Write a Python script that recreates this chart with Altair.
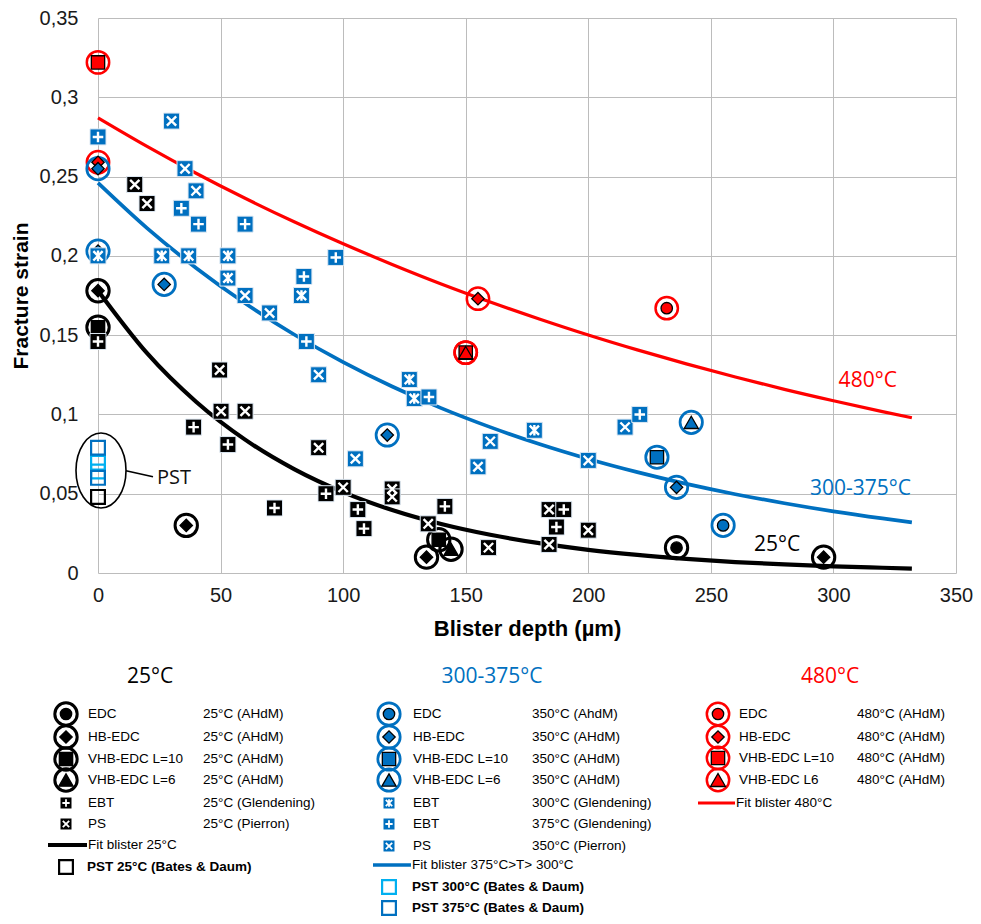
import altair as alt
import pandas as pd

# ================= DATA =================
# AHdM tests (ring markers): blister depth (µm), fracture strain, specimen type
ahdm25_x = [0, 0, 36, 134, 139, 144, 236, 296]
ahdm25_y = [0.178, 0.155, 0.030, 0.010, 0.021, 0.015, 0.016, 0.010]
ahdm25_t = ["HB-EDC", "VHB-EDC L=10", "HB-EDC", "HB-EDC", "VHB-EDC L=10",
            "VHB-EDC L=6", "EDC", "HB-EDC"]

ahdm350_x = [0, 0, 27, 118, 228, 236, 242, 255]
ahdm350_y = [0.255, 0.203, 0.182, 0.087, 0.073, 0.054, 0.095, 0.030]
ahdm350_t = ["HB-EDC", "HB-EDC", "HB-EDC", "HB-EDC", "VHB-EDC L=10",
             "HB-EDC", "VHB-EDC L=6", "EDC"]

ahdm480_x = [0, 0, 155, 150, 150, 232]
ahdm480_y = [0.322, 0.259, 0.173, 0.139, 0.139, 0.167]
ahdm480_t = ["VHB-EDC L=10", "HB-EDC", "HB-EDC", "VHB-EDC L=10",
             "VHB-EDC L=6", "EDC"]

# EBT (Glendening) and PS (Pierron)
ebt25_x = [0, 39, 53, 72, 93, 106, 108.5, 141.5, 190, 187]
ebt25_y = [0.146, 0.092, 0.081, 0.041, 0.050, 0.040, 0.028, 0.042, 0.040, 0.029]
ps25_x = [15, 20, 49.6, 50.2, 60, 90, 100, 120, 120, 134.7, 159.3, 184, 184, 200]
ps25_y = [0.245, 0.233, 0.128, 0.102, 0.102, 0.079, 0.054, 0.053, 0.048,
          0.031, 0.016, 0.040, 0.018, 0.027]
ebt300_x = [0, 26, 37, 53, 53, 83, 127, 129, 178]
ebt300_y = [0.200, 0.200, 0.200, 0.200, 0.186, 0.175, 0.122, 0.110, 0.090]
ebt375_x = [0, 34, 41, 60, 84, 85, 97, 135, 221]
ebt375_y = [0.275, 0.230, 0.220, 0.220, 0.187, 0.146, 0.199, 0.111, 0.100]
ps350_x = [30, 35.5, 40, 60, 70, 90, 105, 155, 160, 200, 215]
ps350_y = [0.285, 0.255, 0.241, 0.175, 0.164, 0.125, 0.072, 0.067, 0.083, 0.071, 0.092]

# PST (Bates & Daum), all at zero depth
pst25_y = [0.048]
pst300_y = [0.0695, 0.064]
pst375_y = [0.079, 0.060]

# Fit curves
fit_x = [0, 20, 40, 60, 80, 100, 120, 140, 160, 180, 200, 220, 240, 260, 280, 300, 320, 332]
fit25_y = [0.178, 0.1386, 0.108, 0.0841, 0.0655, 0.051, 0.0397, 0.0309, 0.0241, 0.0188,
           0.0146, 0.0114, 0.0089, 0.0069, 0.0054, 0.0042, 0.0033, 0.0028]
fit350_y = [0.246, 0.2175, 0.1924, 0.1701, 0.1504, 0.133, 0.1176, 0.104, 0.092, 0.0813,
            0.0719, 0.0636, 0.0562, 0.0497, 0.044, 0.0389, 0.0344, 0.0319]
fit480_y = [0.287, 0.269, 0.2521, 0.2363, 0.2215, 0.2076, 0.1946, 0.1823, 0.1709, 0.1602,
            0.1501, 0.1407, 0.1319, 0.1236, 0.1158, 0.1086, 0.1018, 0.0979]

X_TICKS = [0, 50, 100, 150, 200, 250, 300, 350]
Y_TICKS = [0, 0.05, 0.1, 0.15, 0.2, 0.25, 0.3, 0.35]

# Annotations
curve_labels = ["480°C", "300-375°C", "25°C"]
curve_label_x = [314, 311, 277]
curve_label_y = [0.121, 0.053, 0.0175]
curve_label_g = ["480", "350", "25"]

# Legend content: (kind, key, name, source)
legend_titles = ["25°C", "300-375°C", "480°C"]
legend_col1 = [("ring", "EDC", "EDC", "25°C (AHdM)"),
               ("ring", "HB-EDC", "HB-EDC", "25°C (AHdM)"),
               ("ring", "VHB-EDC L=10", "VHB-EDC L=10", "25°C (AHdM)"),
               ("ring", "VHB-EDC L=6", "VHB-EDC L=6", "25°C (AHdM)"),
               ("sq", "plus", "EBT", "25°C (Glendening)"),
               ("sq", "x", "PS", "25°C (Pierron)"),
               ("line", "", "Fit blister 25°C", ""),
               ("pst", "p25", "PST 25°C (Bates & Daum)", "")]
legend_col2 = [("ring", "EDC", "EDC", "350°C (AhdM)"),
               ("ring", "HB-EDC", "HB-EDC", "350°C (AHdM)"),
               ("ring", "VHB-EDC L=10", "VHB-EDC L=10", "350°C (AHdM)"),
               ("ring", "VHB-EDC L=6", "VHB-EDC L=6", "350°C (AHdM)"),
               ("sq", "ast", "EBT", "300°C (Glendening)"),
               ("sq", "plus", "EBT", "375°C (Glendening)"),
               ("sq", "x", "PS", "350°C (Pierron)"),
               ("line", "", "Fit blister 375°C>T> 300°C", ""),
               ("pst", "p300", "PST 300°C (Bates & Daum)", ""),
               ("pst", "p375", "PST 375°C (Bates & Daum)", "")]
legend_col3 = [("ring", "EDC", "EDC", "480°C (AHdM)"),
               ("ring", "HB-EDC", "HB-EDC", "480°C (AHdM)"),
               ("ring", "VHB-EDC L=10", "VHB-EDC L=10", "480°C (AHdM)"),
               ("ring", "VHB-EDC L6", "VHB-EDC L6", "480°C (AHdM)"),
               ("line", "", "Fit blister 480°C", "")]

# ================= LAYOUT / STYLE =================
W, H = 858, 555
PAD = {"left": 90, "top": 10, "right": 17, "bottom": 343}
X0, Y0 = 8 + PAD["left"], 8 + PAD["top"]   # page position of the plot origin
XMAX, YMAX = 350.0, 0.35


def px2x(px):
    return (px - X0) * XMAX / W


def py2y(py):
    return (Y0 + H - py) * YMAX / H


GROUP_DOM = ["25", "350", "480", "p25", "p300", "p375"]
GROUP_RNG = ["#000000", "#0070c0", "#ff0000", "#000000", "#00b0f0", "#0070c0"]

PLUS = "M -0.66 0 L 0.66 0 M 0 -0.66 L 0 0.66"
XMARK = "M -0.58 -0.58 L 0.58 0.58 M -0.58 0.58 L 0.58 -0.58"
AST = XMARK + " M 0 -0.66 L 0 0.66"
SHAPE_DOM = ["EDC", "HB-EDC", "VHB-EDC L=10", "VHB-EDC L=6", "VHB-EDC L6", "plus", "x", "ast"]
SHAPE_RNG = ["circle", "diamond", "square", "triangle-up", "triangle-up", PLUS, XMARK, AST]
INNER_DOM = ["EDC", "HB-EDC", "VHB-EDC L=10", "VHB-EDC L=6", "VHB-EDC L6"]
INNER_SIZE = [130, 225, 130, 160, 160]
ELLIPSE = "M -0.667 0 A 0.667 1 0 1 0 0.667 0 A 0.667 1 0 1 0 -0.667 0 Z"
GRID = "#bcbcbc"


def cscale():
    return alt.Scale(domain=GROUP_DOM, range=GROUP_RNG)


def shscale():
    return alt.Scale(domain=SHAPE_DOM, range=SHAPE_RNG)


XAX = alt.Axis(values=X_TICKS, grid=True, gridColor=GRID, gridWidth=1, domain=False,
               ticks=False, tickSize=0, labelFont="Liberation Sans", labelFontSize=20,
               labelColor="#1a1a1a", labelPadding=12, labelFlush=False,
               titleFont="Liberation Sans", titleFontSize=22, titleFontWeight="bold",
               titleColor="#000000", titlePadding=13)
YAX = alt.Axis(values=Y_TICKS, grid=True, gridColor=GRID, gridWidth=1, domain=False,
               ticks=False, tickSize=0, labelFont="Liberation Sans", labelFontSize=20,
               labelColor="#1a1a1a", labelPadding=20, labelFlush=False,
               labelExpr="replace(format(datum.value, '~g'), '.', ',')",
               titleFont="Liberation Sans", titleFontSize=21, titleFontWeight="bold",
               titleColor="#000000", titlePadding=8)


def X(field="x"):
    return alt.X(f"{field}:Q", scale=alt.Scale(domain=[0, XMAX], nice=False, zero=False),
                 axis=XAX, title="Blister depth (µm)")


def Y(field="y"):
    return alt.Y(f"{field}:Q", scale=alt.Scale(domain=[0, YMAX], nice=False, zero=False),
                 axis=YAX, title="Fracture strain")


# ================= TABLES =================
ahdm = []
for grp, xs, ys, ts in [("480", ahdm480_x, ahdm480_y, ahdm480_t),
                        ("350", ahdm350_x, ahdm350_y, ahdm350_t),
                        ("25", ahdm25_x, ahdm25_y, ahdm25_t)]:
    for x, y, t in zip(xs, ys, ts):
        ahdm.append(dict(x=x, y=y, grp=grp, kind=t))

sq = []
for grp, glyph, xs, ys in [("350", "x", ps350_x, ps350_y),
                           ("350", "ast", ebt300_x, ebt300_y),
                           ("350", "plus", ebt375_x, ebt375_y),
                           ("25", "x", ps25_x, ps25_y),
                           ("25", "plus", ebt25_x, ebt25_y)]:
    for x, y in zip(xs, ys):
        sq.append(dict(x=x, y=y, grp=grp, kind=glyph))

pst = []
for grp, ys in [("p25", pst25_y), ("p300", pst300_y), ("p375", pst375_y)]:
    for y in ys:
        pst.append(dict(x=0, y=y, grp=grp))

fits = []
for grp, ys in [("25", fit25_y), ("350", fit350_y), ("480", fit480_y)]:
    for x, y in zip(fit_x, ys):
        fits.append(dict(x=x, y=y, grp=grp))

# legend layout (page pixels)
leg_cols = [
    dict(grp="25", rows=legend_col1, sym=66, name=88, src=203, line=(48, 87), title_x=150,
         ys=[714, 737, 759, 780, 803, 824, 845, 867]),
    dict(grp="350", rows=legend_col2, sym=389, name=413, src=532, line=(373, 411), title_x=492,
         ys=[714, 737, 759, 780, 803, 824, 846, 865, 887, 908]),
    dict(grp="480", rows=legend_col3, sym=718, name=739, src=857, line=(698, 735), title_x=830,
         ys=[714, 737, 758, 780, 803]),
]
leg_text, leg_bold, leg_lines, leg_titles, leg_sq = [], [], [], [], []
for col, title in zip(leg_cols, legend_titles):
    leg_titles.append(dict(x=px2x(col["title_x"]), y=py2y(677), t=title, grp=col["grp"]))
    for (kind, key, name, source), py in zip(col["rows"], col["ys"]):
        yy = py2y(py)
        sx = px2x(col["sym"])
        if kind == "ring":
            ahdm.append(dict(x=sx, y=yy, grp=col["grp"], kind=key))
        elif kind == "sq":
            leg_sq.append(dict(x=sx, y=yy, grp=col["grp"], kind=key))
        elif kind == "pst":
            pst.append(dict(x=sx, y=yy, grp=key))
        elif kind == "line":
            leg_lines.append(dict(x=px2x(col["line"][0]), x2=px2x(col["line"][1]),
                                  y=yy, grp=col["grp"]))
        if kind == "pst":
            leg_bold.append(dict(x=px2x(col["name"] - 1), y=yy, t=name))
        else:
            nx = col["line"][1] + 1 if kind == "line" else col["name"]
            leg_text.append(dict(x=px2x(nx), y=yy, t=name))
            if source:
                leg_text.append(dict(x=px2x(col["src"]), y=yy, t=source))

ahdm_df = pd.DataFrame(ahdm)
sq_df = pd.DataFrame(sq)
leg_sq_df = pd.DataFrame(leg_sq)
pst_df = pd.DataFrame(pst)
fit_df = pd.DataFrame(fits)
labels_df = pd.DataFrame(dict(x=curve_label_x, y=curve_label_y, t=curve_labels, grp=curve_label_g))

# PST annotation: ellipse around the PST points, connector and label
ell_df = pd.DataFrame(dict(x=[px2x(101)], y=[py2y(470.5)]))
conn_df = pd.DataFrame(dict(x=[px2x(126)], x2=[px2x(153)], y=[py2y(470.7)], y2=[py2y(476.7)]))
pst_lbl_df = pd.DataFrame(dict(x=[px2x(157)], y=[py2y(478)], t=["PST"]))

SW_DOM = ["25", "350", "480"]

# ================= LAYERS =================
lines = alt.Chart(fit_df).mark_line(interpolate="monotone").encode(
    x=X(), y=Y(),
    color=alt.Color("grp:N", scale=cscale(), legend=None),
    strokeWidth=alt.StrokeWidth("grp:N", scale=alt.Scale(domain=SW_DOM, range=[4.2, 3.2, 3.2]),
                                legend=None),
)
leg_rule = alt.Chart(pd.DataFrame(leg_lines)).mark_rule().encode(
    x=X(), x2="x2:Q", y=Y(),
    color=alt.Color("grp:N", scale=cscale(), legend=None),
    strokeWidth=alt.StrokeWidth("grp:N", scale=alt.Scale(domain=SW_DOM, range=[4.2, 3.2, 3.2]),
                                legend=None),
)
ellipse = alt.Chart(ell_df).mark_point(shape=ELLIPSE, size=5625, filled=False, stroke="black",
                                       strokeWidth=1.6, opacity=1).encode(x=X(), y=Y())
connector = alt.Chart(conn_df).mark_rule(color="black", strokeWidth=1.6).encode(
    x=X(), x2="x2:Q", y=Y(), y2="y2:Q")
pst_lbl = alt.Chart(pst_lbl_df).mark_text(font="Open Sans", fontSize=20, align="left",
                                          baseline="middle", color="#111111").encode(
    x=X(), y=Y(), text="t:N")
pst_pts = alt.Chart(pst_df).mark_point(shape="square", size=190, filled=False,
                                       strokeWidth=2.2, opacity=1).encode(
    x=X(), y=Y(), stroke=alt.Stroke("grp:N", scale=cscale(), legend=None))
rings = alt.Chart(ahdm_df).mark_point(shape="circle", size=500, filled=False,
                                      opacity=1).encode(
    x=X(), y=Y(), stroke=alt.Stroke("grp:N", scale=cscale(), legend=None),
    strokeWidth=alt.StrokeWidth("grp:N", scale=alt.Scale(domain=SW_DOM, range=[3.0, 2.5, 2.5]),
                                legend=None),
)
inner = alt.Chart(ahdm_df).mark_point(filled=True, stroke="black", strokeWidth=1.3,
                                      opacity=1).encode(
    x=X(), y=Y(),
    shape=alt.Shape("kind:N", scale=shscale(), legend=None),
    fill=alt.Fill("grp:N", scale=cscale(), legend=None),
    size=alt.Size("kind:N", scale=alt.Scale(domain=INNER_DOM, range=INNER_SIZE), legend=None),
)
squares = alt.Chart(sq_df).mark_point(shape="square", size=256, filled=True,
                                      stroke="#dde8f3", strokeWidth=1, opacity=1).encode(
    x=X(), y=Y(), fill=alt.Fill("grp:N", scale=cscale(), legend=None))
glyphs = alt.Chart(sq_df).mark_point(size=256, filled=False, stroke="white",
                                     strokeWidth=2.4, opacity=1).encode(
    x=X(), y=Y(), shape=alt.Shape("kind:N", scale=shscale(), legend=None))
leg_squares = alt.Chart(leg_sq_df).mark_point(shape="square", size=121, filled=True,
                                              strokeWidth=0, opacity=1).encode(
    x=X(), y=Y(), fill=alt.Fill("grp:N", scale=cscale(), legend=None))
leg_glyphs = alt.Chart(leg_sq_df).mark_point(size=121, filled=False, stroke="white",
                                             strokeWidth=1.8, opacity=1).encode(
    x=X(), y=Y(), shape=alt.Shape("kind:N", scale=shscale(), legend=None))
curve_txt = alt.Chart(labels_df).mark_text(font="Open Sans", fontSize=21, align="center",
                                           baseline="middle").encode(
    x=X(), y=Y(), text="t:N", color=alt.Color("grp:N", scale=cscale(), legend=None))
leg_title_txt = alt.Chart(pd.DataFrame(leg_titles)).mark_text(
    font="Open Sans", fontSize=21, align="center", baseline="middle").encode(
    x=X(), y=Y(), text="t:N", color=alt.Color("grp:N", scale=cscale(), legend=None))
leg_txt = alt.Chart(pd.DataFrame(leg_text)).mark_text(
    font="Liberation Sans", fontSize=13.5, align="left", baseline="middle",
    color="#000000").encode(x=X(), y=Y(), text="t:N")
leg_bold_txt = alt.Chart(pd.DataFrame(leg_bold)).mark_text(
    font="Liberation Sans", fontSize=13.5, fontWeight="bold", align="left",
    baseline="middle", color="#000000").encode(x=X(), y=Y(), text="t:N")

chart = alt.layer(
    lines, ellipse, connector, pst_lbl, pst_pts, rings, inner, squares, glyphs,
    leg_squares, leg_glyphs, curve_txt, leg_title_txt, leg_rule, leg_txt, leg_bold_txt,
).resolve_scale(
    strokeWidth="independent",
).properties(
    width=W, height=H, padding=PAD, autosize=alt.AutoSizeParams(type="none"),
    background="white",
).configure_view(stroke=None)

chart.save("out.html", embed_options={"renderer": "svg", "actions": False})
